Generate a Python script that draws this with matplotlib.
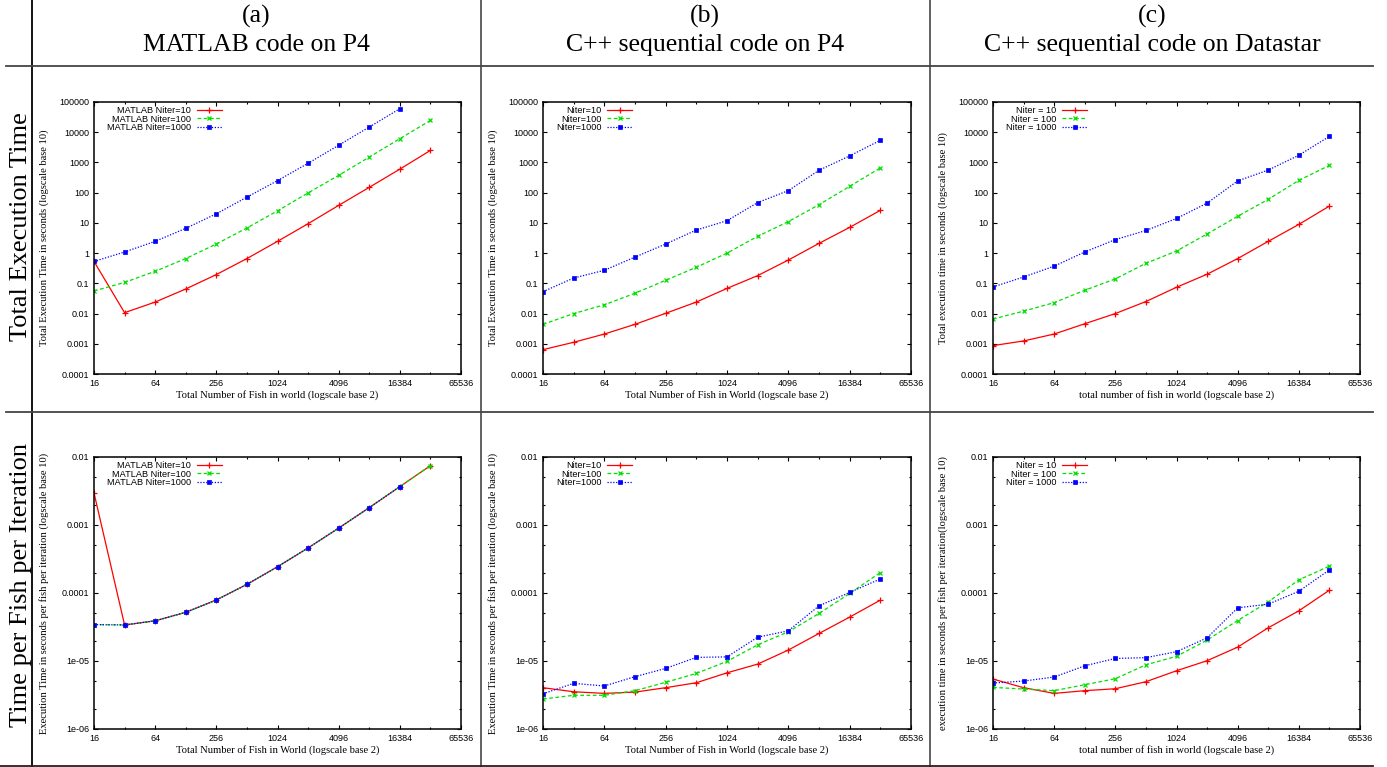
import matplotlib
matplotlib.use('Agg')
import matplotlib.pyplot as plt
from matplotlib.lines import Line2D
from matplotlib.ticker import FixedLocator, FixedFormatter, NullFormatter

# Figure size in pixels (dpi 100)
FIG_W, FIG_H = 1387, 767

SERIF = 'Liberation Serif'
SANS = 'Liberation Sans'

# ---- data ----
fish = [16, 32, 64, 128, 256, 512, 1024, 2048, 4096, 8192, 16384, 32768]

# (a) MATLAB code on P4 - total time (s)
matlab_total_10 = [0.53, 0.0107, 0.024, 0.065, 0.195, 0.66, 2.45, 9.4, 38, 150, 600, 2500]
matlab_total_100 = [0.056, 0.107, 0.25, 0.66, 2.0, 6.8, 25, 98, 375, 1500, 6100, 24500]
matlab_total_1000 = [0.53, 1.09, 2.45, 6.6, 20, 71, 250, 940, 3700, 14800, 60000]

# (a) MATLAB code on P4 - time per fish per iteration (s)
matlab_iter_10 = [2.96e-3, 3.39e-5, 3.9e-5, 5.2e-5, 7.9e-5, 1.34e-4, 2.43e-4, 4.6e-4, 9.0e-4, 1.8e-3, 3.67e-3, 7.46e-3]
matlab_iter_100 = [3.43e-5, 3.39e-5, 3.9e-5, 5.2e-5, 7.9e-5, 1.34e-4, 2.43e-4, 4.6e-4, 9.0e-4, 1.8e-3, 3.67e-3, 7.46e-3]
matlab_iter_1000 = [3.43e-5, 3.39e-5, 3.9e-5, 5.2e-5, 7.9e-5, 1.34e-4, 2.43e-4, 4.6e-4, 9.0e-4, 1.8e-3, 3.67e-3]

# (b) C++ sequential on P4 - total time (s)
cpp_p4_total_10 = [6.4e-4, 1.12e-3, 2.1e-3, 4.4e-3, 0.0102, 0.024, 0.068, 0.18, 0.59, 2.1, 7.1, 26]
cpp_p4_total_100 = [4.4e-3, 0.0100, 0.0195, 0.047, 0.126, 0.34, 1.0, 3.6, 11, 40, 162, 660]
cpp_p4_total_1000 = [0.053, 0.15, 0.27, 0.74, 2.0, 5.8, 11.8, 47, 117, 550, 1650, 5400]

# (b) C++ sequential on P4 - time per fish per iteration (s)
cpp_p4_iter_10 = [4.05e-6, 3.53e-6, 3.34e-6, 3.49e-6, 4.05e-6, 4.79e-6, 6.7e-6, 9.0e-6, 1.45e-5, 2.54e-5, 4.42e-5, 7.85e-5]
cpp_p4_iter_100 = [2.76e-6, 3.13e-6, 3.13e-6, 3.66e-6, 4.85e-6, 6.57e-6, 9.86e-6, 1.73e-5, 2.69e-5, 5.0e-5, 9.84e-5, 2.0e-4]
cpp_p4_iter_1000 = [3.30e-6, 4.69e-6, 4.29e-6, 5.88e-6, 7.78e-6, 1.13e-5, 1.15e-5, 2.24e-5, 2.78e-5, 6.48e-5, 1.02e-4, 1.61e-4]

# (c) C++ sequential on Datastar - total time (s)
cpp_ds_total_10 = [8.7e-4, 1.24e-3, 2.1e-3, 4.6e-3, 0.0100, 0.025, 0.074, 0.20, 0.66, 2.45, 8.9, 36]
cpp_ds_total_100 = [6.6e-3, 0.012, 0.023, 0.059, 0.14, 0.46, 1.17, 4.3, 16.5, 60, 255, 800]
cpp_ds_total_1000 = [0.076, 0.162, 0.37, 1.09, 2.8, 5.6, 14, 45, 245, 560, 1730, 7300]

# (c) C++ sequential on Datastar - time per fish per iteration (s)
cpp_ds_iter_10 = [5.42e-6, 4.05e-6, 3.34e-6, 3.66e-6, 3.91e-6, 4.96e-6, 7.19e-6, 1.01e-5, 1.6e-5, 3.08e-5, 5.47e-5, 1.10e-4]
cpp_ds_iter_100 = [4.09e-6, 3.87e-6, 3.66e-6, 4.48e-6, 5.48e-6, 8.8e-6, 1.17e-5, 2.03e-5, 3.94e-5, 7.41e-5, 1.56e-4, 2.48e-4]
cpp_ds_iter_1000 = [4.74e-6, 5.07e-6, 5.81e-6, 8.5e-6, 1.09e-5, 1.12e-5, 1.37e-5, 2.19e-5, 6.05e-5, 6.85e-5, 1.06e-4, 2.19e-4]

# ---- labels ----
col_letters = ['(a)', '(b)', '(c)']
col_titles = ['MATLAB code on P4', 'C++ sequential code on P4', 'C++ sequential code on Datastar']
row_titles = ['Total Execution Time', 'Time per Fish per Iteration']

legend_labels = [
    ['MATLAB Niter=10', 'MATLAB Niter=100', 'MATLAB Niter=1000'],
    ['Niter=10', 'Niter=100', 'Niter=1000'],
    ['Niter = 10', 'Niter = 100', 'Niter = 1000'],
]
xlabels = [
    ['Total Number of Fish in world (logscale base 2)', 'Total Number of Fish in World (logscale base 2)'],
    ['Total Number of Fish in World (logscale base 2)', 'Total Number of Fish in World (logscale base 2)'],
    ['total number of fish in world (logscale base 2)', 'total number of fish in world (logscale base 2)'],
]
ylabels = [
    ['Total Execution Time in seconds (logscale base 10)',
     'Execution Time in seconds per fish per iteration (logscale base 10)'],
    ['Total Execution Time in seconds (logscale base 10)',
     'Execution Time in seconds per fish per iteration (logscale base 10)'],
    ['Total execution time in seconds (logscale base 10)',
     'execution time in seconds per fish per iteration(logscale base 10)'],
]

x_ticks = [16, 64, 256, 1024, 4096, 16384, 65536]
x_minor = [32, 128, 512, 2048, 8192, 32768]
top_y_ticks = [1e-4, 1e-3, 1e-2, 1e-1, 1, 10, 100, 1000, 10000, 100000]
top_y_labels = ['0.0001', '0.001', '0.01', '0.1', '1', '10', '100', '1000', '10000', '100000']
bot_y_ticks = [1e-6, 1e-5, 1e-4, 1e-3, 1e-2]
bot_y_labels = ['1e-06', '1e-05', '0.0001', '0.001', '0.01']
bot_y_minor = [2e-6, 5e-6, 2e-5, 5e-5, 2e-4, 5e-4, 2e-3, 5e-3]

# line styles, gnuplot-like
STYLES = [
    dict(color='#ff0000', linestyle='-', marker='+', markersize=4.5, markeredgewidth=0.9),
    dict(color='#00e000', linestyle=(0, (3, 2)), marker='x', markersize=3.5, markeredgewidth=0.9),
    dict(color='#0000ff', linestyle=(0, (1, 1.3)), marker='s', markersize=3.3, markeredgewidth=0.5),
]

# panel layout in pixels
COL_LEFT = [94, 543, 993]
COL_RIGHT = [461, 911, 1360]
ROW_TOP = [102, 457]
ROW_BOTTOM = [374, 729]


def px_rect(left, right, top, bottom):
    return [left / FIG_W, 1 - bottom / FIG_H, (right - left) / FIG_W, (bottom - top) / FIG_H]


def fig_line(fig, x0, y0, x1, y1, color='black', lw=1.2):
    fig.add_artist(Line2D([x0 / FIG_W, x1 / FIG_W], [1 - y0 / FIG_H, 1 - y1 / FIG_H],
                          transform=fig.transFigure, color=color, linewidth=lw))


def draw_panel(ax, series, labels, xlabel, ylabel, row):
    for values, label, style in zip(series, labels, STYLES):
        ax.plot(fish[:len(values)], values, label=label, linewidth=0.9, **style)

    ax.set_xscale('log', base=2)
    ax.set_yscale('log')
    ax.set_xlim(16, 65536)
    ax.xaxis.set_major_locator(FixedLocator(x_ticks))
    ax.xaxis.set_major_formatter(FixedFormatter([str(v) for v in x_ticks]))
    ax.xaxis.set_minor_locator(FixedLocator(x_minor))
    ax.xaxis.set_minor_formatter(NullFormatter())

    if row == 0:
        ax.set_ylim(1e-4, 1e5)
        ax.yaxis.set_major_locator(FixedLocator(top_y_ticks))
        ax.yaxis.set_major_formatter(FixedFormatter(top_y_labels))
        ax.yaxis.set_minor_locator(FixedLocator([]))
    else:
        ax.set_ylim(1e-6, 1e-2)
        ax.yaxis.set_major_locator(FixedLocator(bot_y_ticks))
        ax.yaxis.set_major_formatter(FixedFormatter(bot_y_labels))
        ax.yaxis.set_minor_locator(FixedLocator(bot_y_minor))
    ax.yaxis.set_minor_formatter(NullFormatter())

    ax.tick_params(which='both', direction='in', top=True, right=True, width=0.8,
                   labelsize=6.5, pad=3.5, colors='black')
    ax.tick_params(which='major', length=3)
    ax.tick_params(which='minor', length=1.6)
    for t in ax.get_xticklabels() + ax.get_yticklabels():
        t.set_family(SANS)
    for s in ax.spines.values():
        s.set_linewidth(1.1)

    ax.set_xlabel(xlabel, family=SERIF, fontsize=7.6)
    ax.set_ylabel(ylabel, family=SERIF, fontsize=7.6)
    ax.xaxis.set_label_coords(0.5, -0.058)
    ax.yaxis.set_label_coords(-0.122, 0.5)

    leg = ax.legend(loc='upper left', bbox_to_anchor=(0.036, 0.985), borderaxespad=0, borderpad=0,
                    frameon=False, markerfirst=False, handlelength=2.7, handletextpad=0.6,
                    labelspacing=-0.05, prop={'family': SANS, 'size': 6.6})
    return leg


fig = plt.figure(figsize=(FIG_W / 100, FIG_H / 100), dpi=100)

panel_data = [
    [[matlab_total_10, matlab_total_100, matlab_total_1000],
     [matlab_iter_10, matlab_iter_100, matlab_iter_1000]],
    [[cpp_p4_total_10, cpp_p4_total_100, cpp_p4_total_1000],
     [cpp_p4_iter_10, cpp_p4_iter_100, cpp_p4_iter_1000]],
    [[cpp_ds_total_10, cpp_ds_total_100, cpp_ds_total_1000],
     [cpp_ds_iter_10, cpp_ds_iter_100, cpp_ds_iter_1000]],
]

for col in range(3):
    for row in range(2):
        ax = fig.add_axes(px_rect(COL_LEFT[col], COL_RIGHT[col], ROW_TOP[row], ROW_BOTTOM[row]))
        draw_panel(ax, panel_data[col][row], legend_labels[col], xlabels[col][row], ylabels[col][row], row)

# table grid
fig_line(fig, 32, 0, 32, FIG_H, color='black', lw=1.3)
fig_line(fig, 481, 0, 481, FIG_H, color='#555555', lw=1.3)
fig_line(fig, 930, 0, 930, FIG_H, color='#555555', lw=1.3)
fig_line(fig, 6, 66, 1373, 66, color='#444444', lw=1.3)
fig_line(fig, 6, 412, 1373, 412, color='#444444', lw=1.3)
fig_line(fig, 0, 766, 1373, 766, color='#222222', lw=1.3)

# column headers
col_centers = [256, 705, 1152]
for cx, letter, title in zip(col_centers, col_letters, col_titles):
    fig.text(cx / FIG_W, 1 - 16 / FIG_H, letter, ha='center', va='center', family=SERIF, fontsize=18.5)
    fig.text(cx / FIG_W, 1 - 45 / FIG_H, title, ha='center', va='center', family=SERIF, fontsize=18.5)

# row headers
for cy, title in zip([227, 585], row_titles):
    fig.text(21 / FIG_W, 1 - cy / FIG_H, title, ha='center', va='center', rotation=90,
             family=SERIF, fontsize=19)

fig.savefig('out.png', dpi=100)
